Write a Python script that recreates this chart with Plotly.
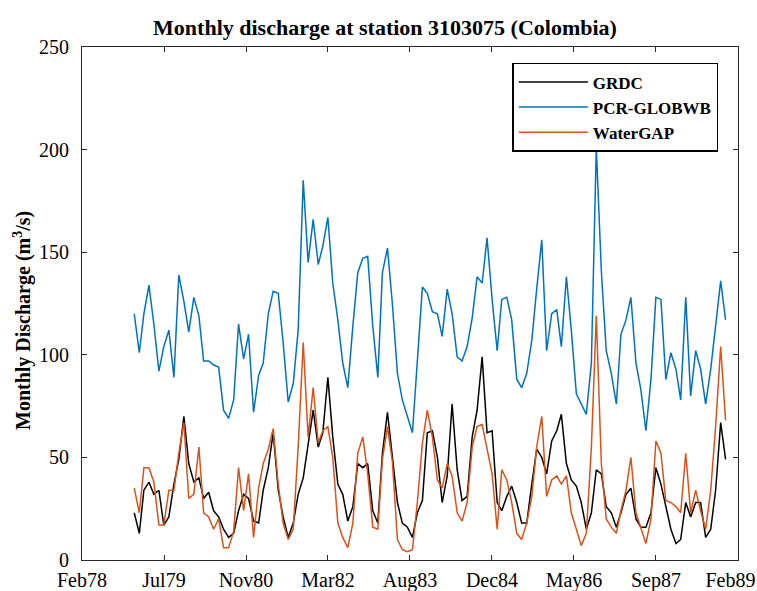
import pandas as pd
import plotly.graph_objects as go

# ---- data (monthly, Jan 1979 - Dec 1988) ----
start_month = "1979-01-01"
n_months = 120

grdc = [23, 13, 34, 38, 32, 34, 17, 21, 37, 49, 70, 47, 38, 40, 30, 33, 24, 21, 15, 11, 13, 24, 32, 30, 19, 18,
        34, 45, 62, 34, 21, 11, 18, 32, 40, 57, 73, 55, 62, 89, 60, 37, 32, 19, 26, 47, 45, 47, 24, 18, 52, 72, 50,
        28, 18, 16, 11, 23, 29, 62, 63, 50, 28, 41, 76, 44, 29, 31, 60, 73, 99, 62, 63, 28, 24, 31, 36, 28, 18,
        18, 37, 54, 50, 42, 58, 63, 71, 47, 39, 36, 28, 15, 23, 44, 42, 26, 23, 16, 23, 32, 35, 20, 16, 16, 23,
        45, 37, 26, 15, 8, 10, 28, 21, 28, 28, 11, 15, 34, 67, 49]

pcr_globwb = [120, 101, 120, 134, 115, 92, 104, 112, 89, 139, 126, 111, 128, 119, 97, 97, 95, 94, 73, 69, 78, 115, 98, 110, 72, 90,
              96, 120, 131, 130, 106, 77, 86, 112, 185, 145, 166, 144, 153, 167, 135, 117, 96, 84, 114, 140, 147, 148, 114, 89, 140, 152, 125,
              91, 78, 70, 62, 97, 133, 130, 121, 120, 109, 132, 120, 99, 97, 104, 118, 138, 135, 157, 127, 102, 127, 128, 117, 88, 84,
              91, 107, 132, 156, 102, 120, 122, 104, 138, 112, 81, 76, 71, 96, 201, 141, 102, 91, 76, 110, 117, 128, 96, 83, 63, 88,
              128, 127, 88, 101, 93, 78, 128, 80, 102, 93, 76, 93, 114, 136, 117]

watergap = [35, 23, 45, 45, 38, 17, 17, 34, 34, 52, 67, 30, 32, 55, 23, 21, 15, 20, 6, 6, 14, 45, 24, 42, 11, 35,
            47, 54, 64, 37, 18, 10, 15, 55, 106, 60, 84, 57, 63, 65, 50, 18, 11, 6, 18, 52, 60, 42, 16, 15, 49, 65, 48,
            10, 5, 4, 5, 28, 57, 73, 60, 39, 35, 47, 41, 23, 19, 28, 55, 65, 66, 54, 42, 15, 44, 39, 28, 13, 10,
            18, 31, 55, 70, 31, 39, 41, 37, 41, 23, 15, 7, 13, 55, 119, 47, 20, 16, 13, 24, 34, 50, 23, 16, 8, 20,
            58, 52, 29, 28, 26, 23, 52, 23, 34, 24, 15, 34, 65, 104, 68]

tick_labels = ["Feb78", "Jul79", "Nov80", "Mar82", "Aug83", "Dec84", "May86", "Sep87", "Feb89"]
axis_start = "1978-02-15"
tick_step_days = 502.25

series_names = ["GRDC", "PCR-GLOBWB", "WaterGAP"]
series_colors = ["#000000", "#0072BD", "#D95319"]

# ---- figure ----
dates = pd.date_range(start_month, periods=n_months, freq="MS")
t0 = pd.Timestamp(axis_start)
tick_vals = [t0 + pd.Timedelta(days=tick_step_days * k) for k in range(len(tick_labels))]
x_end = tick_vals[-1] + pd.Timedelta(hours=2)
# nudge the last label left (as in the reference) so it stays inside the page
tick_text = tick_labels[:-1] + [tick_labels[-1] + "\u00a0" * 3]

FONT = "Liberation Serif"
AX = "#262626"

fig = go.Figure()
for name, vals, col in zip(series_names, [grdc, pcr_globwb, watergap], series_colors):
    fig.add_trace(go.Scatter(x=dates, y=vals, mode="lines", name=name,
                             line=dict(color=col, width=1.5)))

fig.update_layout(
    width=757, height=591,
    margin=dict(l=82, r=19, t=47, b=31),
    paper_bgcolor="white", plot_bgcolor="white",
    font=dict(family=FONT, color="#000000", size=20),
    title=dict(text="<b>Monthly discharge at station 3103075 (Colombia)</b>",
               x=385 / 757, xanchor="center",
               y=1 - 27 / 591, yanchor="middle",
               font=dict(family=FONT, size=22, color="#000000")),
    showlegend=True,
    legend=dict(x=0.97, y=0.969, xanchor="right", yanchor="top",
                bgcolor="white", bordercolor="#000000", borderwidth=1.5,
                font=dict(family=FONT, size=17, color="#000000", weight="bold"),
                itemwidth=69, tracegroupgap=0),
)

fig.update_xaxes(
    type="date", range=[t0, x_end], automargin=False,
    tickmode="array", tickvals=tick_vals, ticktext=tick_text,
    ticks="inside", ticklen=5, tickcolor=AX, tickwidth=1,
    showline=True, linecolor=AX, linewidth=1, mirror="ticks",
    showgrid=False, zeroline=False, ticklabelstandoff=2,
    ticklabeloverflow="allow",
    tickfont=dict(family=FONT, size=20, color="#000000"),
)
fig.update_yaxes(
    range=[0, 250], tickmode="array", tickvals=[0, 50, 100, 150, 200, 250],
    automargin=False,
    ticks="inside", ticklen=5, tickcolor=AX, tickwidth=1,
    showline=True, linecolor=AX, linewidth=1, mirror="ticks",
    showgrid=False, zeroline=False, ticklabelstandoff=8,
    tickfont=dict(family=FONT, size=20, color="#000000"),
)

fig.add_annotation(text="<b>Monthly Discharge (m<sup>3</sup>/s)</b>",
                   xref="paper", yref="paper", x=(22 - 82) / 656, y=(560 - 321) / 513,
                   xanchor="center", yanchor="middle", textangle=-90, showarrow=False,
                   font=dict(family=FONT, size=20, color="#000000"))

fig.write_html("out.html")
